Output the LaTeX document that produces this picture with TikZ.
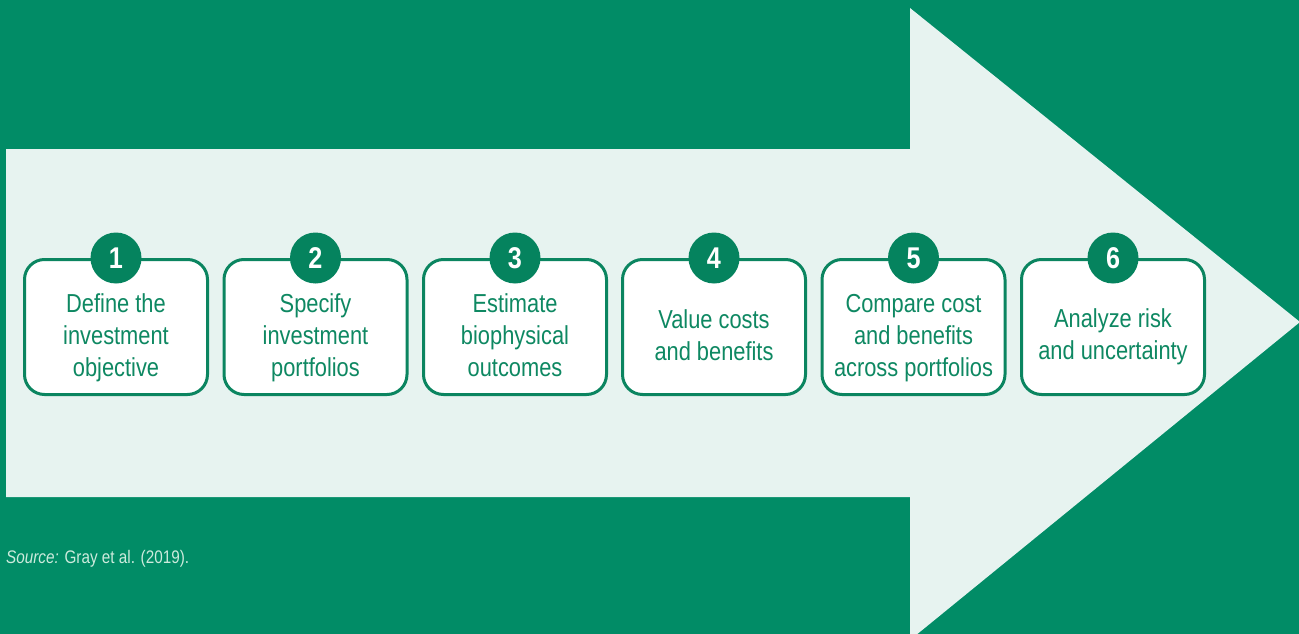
\documentclass[tikz,border=0pt]{standalone}
\usepackage{fontspec}
\setmainfont[FakeStretch=0.84]{Liberation Sans}
\definecolor{deepgreen}{HTML}{018C66}
\definecolor{discgreen}{HTML}{05835E}
\definecolor{edgegreen}{HTML}{0B8560}
\definecolor{inkgreen}{HTML}{0E8862}
\definecolor{paleband}{HTML}{E7F3F0}
\definecolor{notetext}{HTML}{CDEBDD}
\begin{document}
\begin{tikzpicture}[x=1pt,y=-1pt,
  stepbox/.style={draw=edgegreen,line width=3pt,fill=white,rounded corners=20pt,
    minimum width=183pt,minimum height=135pt,inner sep=0pt},
  disc/.style={circle,fill=discgreen,minimum size=51pt,inner sep=0pt,
    text=white,font=\fontsize{30}{30}\selectfont\bfseries},
  boxtext/.style={align=center,text=inkgreen,anchor=base,inner sep=0pt,
    font=\fontsize{26}{31.7}\selectfont}]
  \useasboundingbox (0,0) rectangle (1299,634);
  % background
  \fill[deepgreen] (0,0) rectangle (1299,634);
  % large arrow
  \fill[paleband] (6,149) -- (910,149) -- (910,8) -- (1300,322)
    -- (910,640) -- (910,497) -- (6,497) -- cycle;
  % steps (text anchored on the baseline of its last line)
  \foreach \i/\cx/\ty/\txt in {
      1/116/376/{Define the\\investment\\objective},
      2/315.5/376/{Specify\\investment\\portfolios},
      3/515/376/{Estimate\\biophysical\\outcomes},
      4/714/360/{Value costs\\and benefits},
      5/913.5/376/{Compare cost\\and benefits\\across portfolios},
      6/1113/359/{Analyze risk\\and uncertainty}} {
    \node[stepbox] (b\i) at (\cx,327) {};
    \node[disc] (n\i) at (b\i.north) {\i};
    \node[boxtext] (t\i) at (\cx,\ty) {\txt};
  }
  % source note
  \node[anchor=base west,inner sep=0pt,text=notetext,
    font=\fontsize{18.2}{18.2}\selectfont] (src) at (6,563)
    {\textit{Source:} Gray et al. (2019).};
\end{tikzpicture}
\end{document}
